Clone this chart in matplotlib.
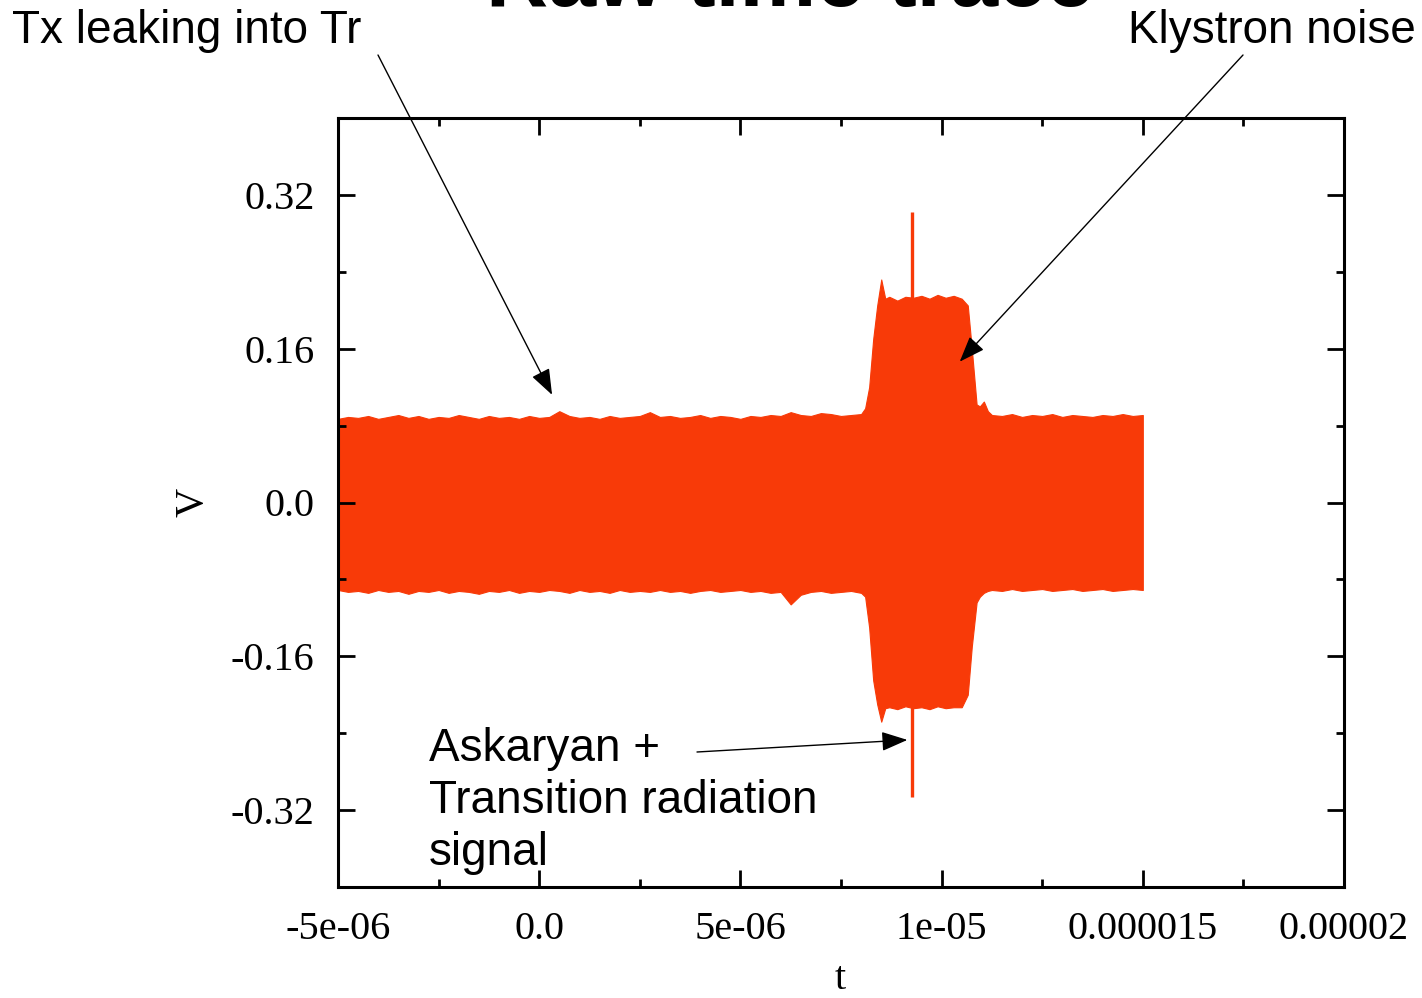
import numpy as np
import matplotlib
matplotlib.use("Agg")
import matplotlib.pyplot as plt
from matplotlib.ticker import MultipleLocator, FixedLocator, FixedFormatter

# envelope of the raw trace, time in microseconds
t_us = [-5.00, -4.75, -4.50, -4.25, -4.00, -3.75, -3.50, -3.25, -3.00, -2.75,
        -2.50, -2.25, -2.00, -1.75, -1.50, -1.25, -1.00, -0.75, -0.50, -0.25,
        0.00, 0.25, 0.50, 0.75, 1.00, 1.25, 1.50, 1.75, 2.00, 2.25,
        2.50, 2.75, 3.00, 3.25, 3.50, 3.75, 4.00, 4.25, 4.50, 4.75,
        5.00, 5.25, 5.50, 5.75, 6.00, 6.25, 6.50, 6.75, 7.00, 7.25,
        7.50, 7.75, 8.00,
        8.10, 8.20, 8.30, 8.40, 8.50, 8.60, 8.70, 8.90, 9.10, 9.30,
        9.50, 9.70, 9.90, 10.10, 10.30, 10.50, 10.65, 10.75, 10.87, 10.95,
        11.05, 11.15,
        11.25, 11.50, 11.75, 12.00, 12.25, 12.50, 12.75, 13.00, 13.25, 13.50,
        13.75, 14.00, 14.25, 14.50, 14.75, 15.00]

v_upper = [0.087, 0.089, 0.088, 0.090, 0.087, 0.089, 0.091, 0.088, 0.090, 0.087,
           0.089, 0.088, 0.091, 0.089, 0.087, 0.090, 0.088, 0.089, 0.087, 0.090,
           0.088, 0.089, 0.095, 0.090, 0.088, 0.089, 0.087, 0.090, 0.088, 0.089,
           0.090, 0.094, 0.089, 0.090, 0.088, 0.089, 0.091, 0.088, 0.090, 0.089,
           0.087, 0.090, 0.089, 0.091, 0.090, 0.094, 0.091, 0.090, 0.093, 0.092,
           0.090, 0.091, 0.092,
           0.098, 0.120, 0.170, 0.205, 0.232, 0.212, 0.214, 0.210, 0.214, 0.213,
           0.215, 0.212, 0.216, 0.213, 0.215, 0.212, 0.205, 0.160, 0.102, 0.100,
           0.105, 0.095,
           0.091, 0.090, 0.092, 0.089, 0.091, 0.090, 0.092, 0.089, 0.091, 0.090,
           0.089, 0.091, 0.090, 0.092, 0.090, 0.091]

v_lower = [-0.091, -0.093, -0.092, -0.094, -0.091, -0.093, -0.092, -0.095, -0.092, -0.093,
           -0.091, -0.094, -0.092, -0.093, -0.095, -0.092, -0.093, -0.091, -0.094, -0.092,
           -0.093, -0.091, -0.092, -0.094, -0.091, -0.093, -0.092, -0.094, -0.091, -0.093,
           -0.092, -0.093, -0.091, -0.093, -0.092, -0.094, -0.092, -0.091, -0.093, -0.092,
           -0.091, -0.093, -0.092, -0.094, -0.093, -0.106, -0.096, -0.093, -0.092, -0.094,
           -0.093, -0.092, -0.094,
           -0.098, -0.130, -0.185, -0.210, -0.228, -0.214, -0.213, -0.215, -0.212, -0.214,
           -0.213, -0.215, -0.212, -0.214, -0.213, -0.213, -0.200, -0.150, -0.104, -0.098,
           -0.094, -0.092,
           -0.091, -0.092, -0.090, -0.092, -0.091, -0.090, -0.092, -0.091, -0.090, -0.092,
           -0.091, -0.090, -0.092, -0.091, -0.090, -0.091]

# Askaryan + transition radiation spike
spike_t_us = 9.27
spike_top = 0.302
spike_bottom = -0.306

x_ticks = [-5e-6, 0.0, 5e-6, 1e-5, 1.5e-5, 2e-5]
x_labels = ["-5e-06", "0.0", "5e-06", "1e-05", "0.000015", "0.00002"]
y_ticks = [-0.32, -0.16, 0.0, 0.16, 0.32]
y_labels = ["-0.32", "-0.16", "0.0", "0.16", "0.32"]

trace_color = "#f83a08"

t = np.array(t_us) * 1e-6

fig = plt.figure(figsize=(14.22, 9.98), dpi=100)
ax = fig.add_axes([338 / 1422, 1 - 887 / 998, 1006 / 1422, 769 / 998])

ax.fill_between(t, v_lower, v_upper, color=trace_color, lw=0.8, edgecolor=trace_color)
ax.vlines(spike_t_us * 1e-6, spike_bottom, spike_top, color=trace_color, lw=2.4)

ax.set_xlim(-5e-6, 2e-5)
ax.set_ylim(-0.4, 0.4)

serif = "Liberation Serif"
ax.xaxis.set_major_locator(FixedLocator(x_ticks))
ax.xaxis.set_major_formatter(FixedFormatter(x_labels))
ax.xaxis.set_minor_locator(MultipleLocator(2.5e-6))
ax.yaxis.set_major_locator(FixedLocator(y_ticks))
ax.yaxis.set_major_formatter(FixedFormatter(y_labels))
ax.yaxis.set_minor_locator(MultipleLocator(0.08))

ax.tick_params(which="both", direction="in", top=True, right=True, width=2, color="black")
ax.tick_params(which="major", length=12, pad=17, labelsize=29)
ax.tick_params(which="minor", length=6)
for lab in ax.get_xticklabels() + ax.get_yticklabels():
    lab.set_fontfamily(serif)
for s in ax.spines.values():
    s.set_linewidth(2.2)

ax.set_xlabel("t", fontsize=29, fontfamily=serif)
ax.set_ylabel("V", fontsize=29, fontfamily=serif)
ax.xaxis.set_label_coords(0.499, -0.096)
ax.yaxis.set_label_coords(-0.126, 0.5)

# title (clipped by the top of the page, as in the original slide)
fig.text(790 / 1422, 992 / 998, "Raw time trace", ha="center", va="baseline",
         fontsize=62, fontweight="bold", family="Liberation Sans")

sans = "Liberation Sans"
fig.text(12, 955, "Tx leaking into Tr", transform=None, fontsize=33, family=sans,
         va="baseline", ha="left")
fig.text(1416, 955, "Klystron noise", transform=None, fontsize=33, family=sans,
         va="baseline", ha="right")
fig.text(429, 133, "Askaryan +\nTransition radiation\nsignal", transform=None,
         fontsize=33, family=sans, va="baseline", ha="left", linespacing=1.24)

arrow = dict(arrowstyle="-|>,head_length=0.8,head_width=0.3", color="black",
             lw=1.0, mutation_scale=20, shrinkA=0, shrinkB=0)
ax.annotate("", xy=(0.32e-6, 0.112), xycoords="data",
            xytext=(378, 943), textcoords="figure pixels", arrowprops=arrow)
ax.annotate("", xy=(10.45e-6, 0.1465), xycoords="data",
            xytext=(1243, 943), textcoords="figure pixels", arrowprops=arrow)
ax.annotate("", xy=(9.15e-6, -0.247), xycoords="data",
            xytext=(697, 246), textcoords="figure pixels", arrowprops=arrow)

fig.savefig("out.png", dpi=100)
